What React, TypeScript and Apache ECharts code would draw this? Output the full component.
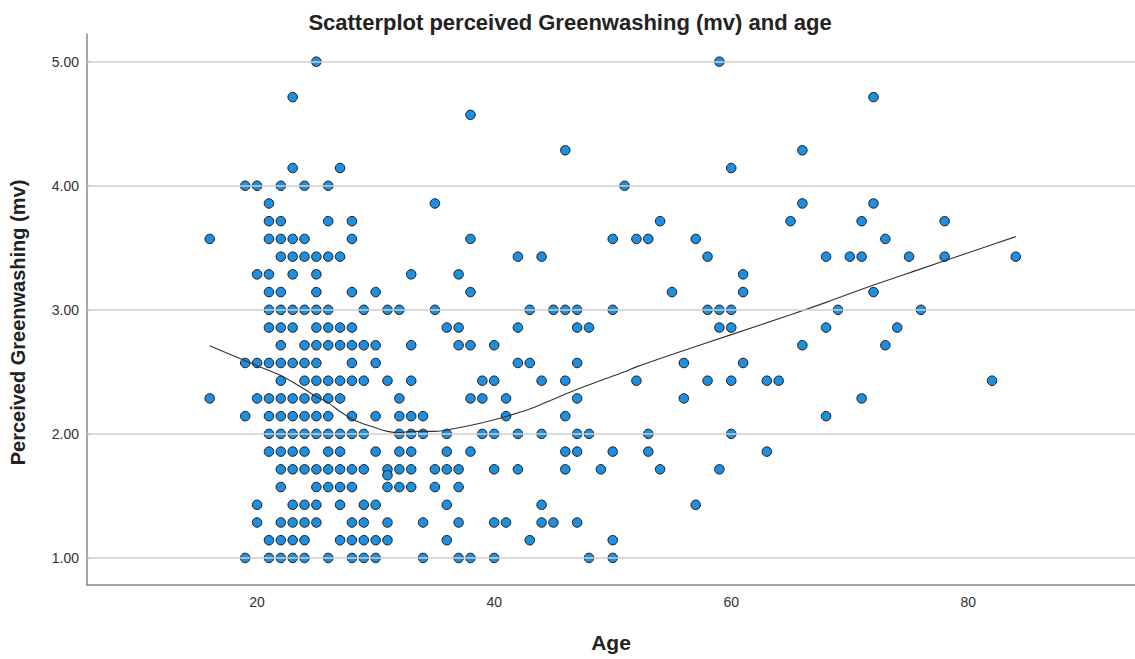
import React, { useEffect, useRef } from "react";
import * as echarts from "echarts";

// Ages observed at each perceived-greenwashing level (mean of 7 items)
const age_5_00 = [25, 59];
const age_4_71 = [23, 72];
const age_4_57 = [38];
const age_4_29 = [46, 66];
const age_4_14 = [23, 27, 60];
const age_4_00 = [19, 20, 22, 24, 26, 51];
const age_3_86 = [21, 35, 66, 72];
const age_3_71 = [21, 22, 26, 28, 54, 65, 71, 78];
const age_3_57 = [16, 21, 22, 23, 24, 28, 38, 50, 52, 53, 57, 73];
const age_3_43 = [22, 23, 24, 25, 26, 27, 42, 44, 58, 68, 70, 71, 75, 78, 84];
const age_3_29 = [20, 21, 23, 25, 33, 37, 61];
const age_3_14 = [21, 22, 25, 28, 30, 38, 55, 61, 72];
const age_3_00 = [21, 22, 23, 24, 25, 26, 29, 31, 32, 35, 43, 45, 46, 47, 50, 58, 59, 60, 69, 76];
const age_2_86 = [21, 22, 23, 25, 26, 27, 28, 36, 37, 42, 47, 48, 59, 60, 68, 74];
const age_2_71 = [22, 24, 25, 26, 27, 28, 29, 30, 33, 37, 38, 40, 66, 73];
const age_2_57 = [19, 20, 21, 22, 23, 24, 25, 28, 30, 42, 43, 47, 56, 61];
const age_2_43 = [22, 24, 25, 26, 27, 28, 29, 31, 33, 39, 40, 44, 46, 52, 58, 60, 63, 64, 82];
const age_2_29 = [16, 20, 21, 22, 23, 24, 25, 26, 27, 32, 38, 39, 41, 47, 56, 71];
const age_2_14 = [19, 21, 22, 23, 24, 25, 26, 28, 30, 32, 33, 34, 41, 46, 68];
const age_2_00 = [21, 22, 23, 24, 25, 26, 27, 28, 29, 32, 33, 34, 36, 39, 40, 42, 44, 47, 48, 53, 60];
const age_1_86 = [21, 22, 23, 24, 26, 27, 30, 32, 33, 36, 38, 46, 47, 50, 53, 63];
const age_1_71 = [22, 23, 24, 25, 26, 27, 28, 29, 31, 32, 33, 35, 36, 37, 40, 42, 46, 49, 54, 59];
const age_1_67 = [31];
const age_1_57 = [22, 25, 26, 27, 28, 31, 32, 33, 35, 37];
const age_1_43 = [20, 23, 24, 25, 27, 29, 30, 36, 44, 57];
const age_1_29 = [20, 22, 23, 24, 25, 28, 29, 31, 34, 37, 40, 41, 44, 45, 47];
const age_1_14 = [21, 22, 23, 24, 27, 28, 29, 30, 31, 36, 43, 50];
const age_1_00 = [19, 21, 22, 23, 24, 26, 28, 29, 30, 34, 37, 38, 40, 48, 50];

const levels: [number, number[]][] = [
  [5.0, age_5_00], [4 + 5 / 7, age_4_71], [4 + 4 / 7, age_4_57], [4 + 2 / 7, age_4_29],
  [4 + 1 / 7, age_4_14], [4.0, age_4_00], [3 + 6 / 7, age_3_86], [3 + 5 / 7, age_3_71],
  [3 + 4 / 7, age_3_57], [3 + 3 / 7, age_3_43], [3 + 2 / 7, age_3_29], [3 + 1 / 7, age_3_14],
  [3.0, age_3_00], [2 + 6 / 7, age_2_86], [2 + 5 / 7, age_2_71], [2 + 4 / 7, age_2_57],
  [2 + 3 / 7, age_2_43], [2 + 2 / 7, age_2_29], [2 + 1 / 7, age_2_14], [2.0, age_2_00],
  [1 + 6 / 7, age_1_86], [1 + 5 / 7, age_1_71], [1 + 2 / 3, age_1_67], [1 + 4 / 7, age_1_57],
  [1 + 3 / 7, age_1_43], [1 + 2 / 7, age_1_29], [1 + 1 / 7, age_1_14], [1.0, age_1_00],
];

// Loess fit line
const fitAge = [16, 18, 20, 22, 24, 25, 26, 27, 28, 29, 30, 31, 32, 33, 35, 37, 39, 41, 43, 45, 47, 49, 51, 52, 55, 60, 65, 68, 72, 76, 80, 84];
const fitValue = [2.71, 2.63, 2.55, 2.47, 2.36, 2.3, 2.25, 2.18, 2.12, 2.08, 2.05, 2.02, 2.01, 2.02, 2.02, 2.05, 2.09, 2.14, 2.2, 2.28, 2.36, 2.43, 2.5, 2.54, 2.64, 2.8, 2.96, 3.06, 3.2, 3.33, 3.46, 3.59];

const xTicks = [20, 40, 60, 80];
const yTicks = [1, 2, 3, 4, 5];

const FONT = 'Arial, "Liberation Sans", sans-serif';

export default function App() {
  const ref = useRef<HTMLDivElement>(null);
  useEffect(() => {
    document.body.style.margin = "0";
    if (!ref.current) return;
    const chart = echarts.init(ref.current, null, { renderer: "svg" });
    const points: number[][] = [];
    levels.forEach(([v, ages]) => ages.forEach((a) => points.push([a, v])));
    const fit = fitAge.map((a, i) => [a, fitValue[i]]);
    chart.setOption({
      animation: false,
      backgroundColor: "#ffffff",
      title: {
        text: "Scatterplot perceived Greenwashing (mv) and age",
        left: 565,
        textAlign: "center",
        top: 6,
        textStyle: { fontFamily: FONT, fontSize: 22, fontWeight: "bold", color: "#222" },
      },
      grid: { left: 87, right: 0, top: 34, bottom: 74 },
      xAxis: {
        type: "value",
        min: 5.65,
        max: 94.06,
        name: "Age",
        nameLocation: "middle",
        nameGap: 47,
        nameTextStyle: { fontFamily: FONT, fontSize: 21, fontWeight: "bold", color: "#222" },
        axisLine: { show: true, lineStyle: { color: "#888", width: 1.5 } },
        axisTick: { show: false, customValues: xTicks },
        axisLabel: { customValues: xTicks, fontFamily: FONT, fontSize: 14, color: "#333", margin: 10 },
        splitLine: { show: false },
      },
      yAxis: {
        type: "value",
        min: 0.782,
        max: 5.223,
        name: "Perceived Greenwashing (mv)",
        nameLocation: "middle",
        nameGap: 59,
        nameRotate: 90,
        nameTextStyle: {
          fontFamily: FONT,
          fontSize: 20,
          fontWeight: "bold",
          color: "#222",
          padding: [0, 26, 0, 0],
        },
        axisLine: { show: true, lineStyle: { color: "#888", width: 1.5 } },
        axisTick: { show: true, inside: true, length: 3, customValues: yTicks, lineStyle: { color: "#888" } },
        axisLabel: {
          customValues: yTicks,
          formatter: (v: number) => v.toFixed(2),
          fontFamily: FONT,
          fontSize: 14,
          color: "#333",
          margin: 8,
        },
        splitLine: { show: false },
      },
      series: [
        {
          type: "scatter",
          data: [],
          z: 1,
          markLine: {
            silent: true,
            symbol: ["none", "none"],
            label: { show: false },
            lineStyle: { color: "#cfcfcf", width: 1.5, type: "solid" },
            data: yTicks.map((t) => ({ yAxis: t })),
          },
        },
        {
          type: "scatter",
          data: points,
          z: 3,
          symbol: "circle",
          symbolSize: 9.5,
          itemStyle: { color: "#1e8ee0", borderColor: "#1a1a1a", borderWidth: 1, opacity: 1 },
        },
        {
          type: "line",
          data: fit,
          z: 4,
          smooth: 0.3,
          showSymbol: false,
          symbol: "none",
          lineStyle: { color: "#333", width: 1.1 },
        },
      ],
    });
    return () => chart.dispose();
  }, []);
  return <div ref={ref} style={{ width: 1135, height: 659 }} />;
}
